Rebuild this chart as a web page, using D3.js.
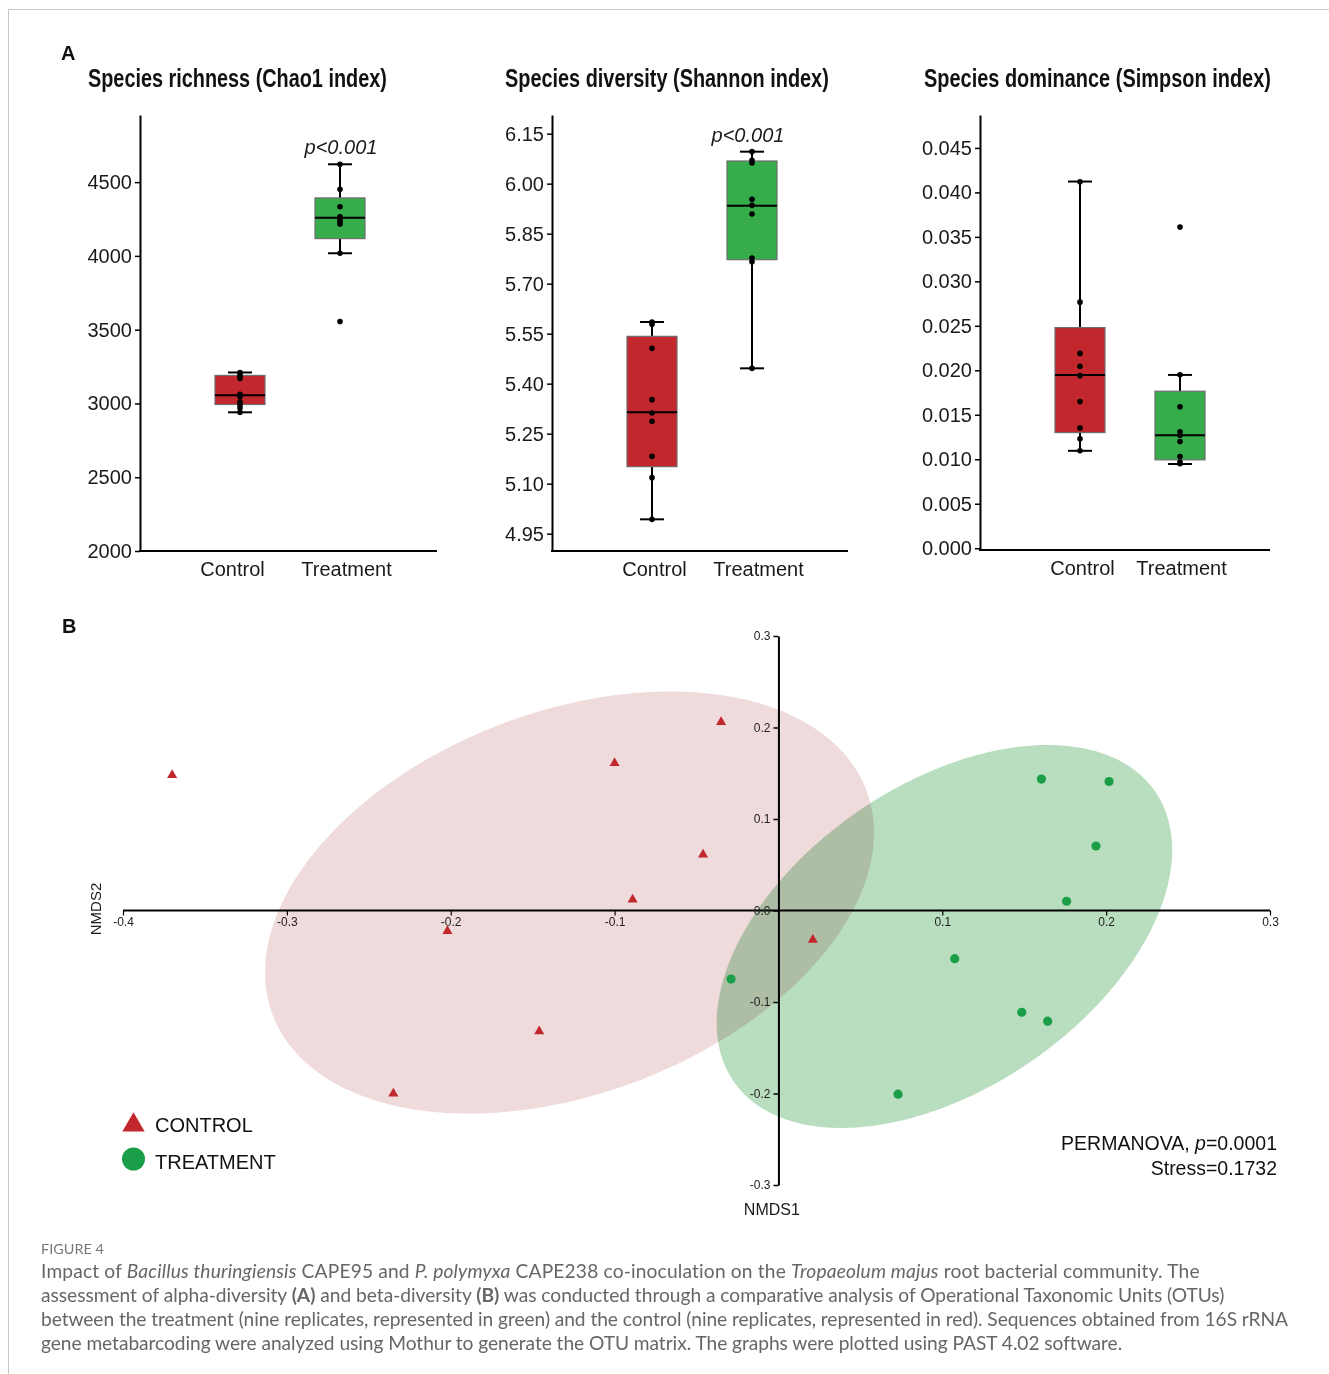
<!DOCTYPE html>
<html><head><meta charset="utf-8">
<script src="https://cdn.jsdelivr.net/npm/d3@7"></script>
<style>
body{margin:0;background:#fff;}
svg{display:block;}
</style></head><body>
<svg id="chart" width="1329" height="1374"></svg>
<script>
// ================= DATA =================
const groups = ["Control", "Treatment"];

// Box statistics per group: [whiskerLow, Q1, median, Q3, whiskerHigh]
const chao1Box   = [[2940, 2993, 3055, 3190, 3210], [4018, 4117, 4258, 4393, 4621]];
const chao1Pts   = [[3210, 3190, 3170, 3062, 3045, 3010, 2990, 2970, 2940],
                    [4621, 4452, 4333, 4265, 4250, 4235, 4217, 4018, 3555]];
const chao1Ticks = [2000, 2500, 3000, 3500, 4000, 4500];

const shannonBox   = [[4.993, 5.151, 5.314, 5.542, 5.585], [5.446, 5.772, 5.934, 6.068, 6.096]];
const shannonPts   = [[5.585, 5.578, 5.506, 5.352, 5.312, 5.287, 5.182, 5.118, 4.993],
                      [6.096, 6.070, 6.062, 5.953, 5.935, 5.909, 5.777, 5.766, 5.446]];
const shannonTicks = [4.95, 5.10, 5.25, 5.40, 5.55, 5.70, 5.85, 6.00, 6.15];

const simpsonBox   = [[0.01095, 0.0130, 0.01948, 0.0248, 0.04122], [0.00947, 0.00994, 0.0127, 0.01765, 0.01948]];
const simpsonPts   = [[0.0412, 0.02766, 0.0219, 0.02046, 0.0194, 0.01648, 0.01352, 0.01231, 0.01095],
                      [0.0361, 0.0195, 0.0159, 0.0131, 0.0127, 0.0120, 0.0103, 0.0097, 0.0095]];
const simpsonTicks = [0, 0.005, 0.010, 0.015, 0.020, 0.025, 0.030, 0.035, 0.040, 0.045];

// Panel B: NMDS coordinates
const controlNMDS1   = [-0.370, -0.035, -0.100, -0.046, -0.089, -0.202, -0.146, -0.235, 0.021];
const controlNMDS2   = [0.148, 0.206, 0.161, 0.061, 0.012, -0.0225, -0.132, -0.200, -0.032];
const treatmentNMDS1 = [0.1605, 0.2018, 0.1938, 0.1759, -0.0289, 0.1076, 0.073, 0.1485, 0.1643];
const treatmentNMDS2 = [0.1436, 0.141, 0.0705, 0.0101, -0.0749, -0.0527, -0.2007, -0.1112, -0.121];
// 95% ellipses: [centerX, centerY, varX, varY, covXY] (data units)
const controlEllipse   = [-0.1275, 0.0087, 0.03452, 0.0532, 0.01418];
const treatmentEllipse = [0.1013, -0.0284, 0.01932, 0.04379, 0.01316];
const nmdsXTicks = [-0.4, -0.3, -0.2, -0.1, 0.1, 0.2, 0.3];
const nmdsYTicks = [-0.3, -0.2, -0.1, 0.0, 0.1, 0.2, 0.3];

const titles = ["Species richness (Chao1 index)", "Species diversity (Shannon index)", "Species dominance (Simpson index)"];
const statsLines = ["PERMANOVA, ", "p", "=0.0001", "Stress=0.1732"];

// ================= DRAWING =================
const RED = "#c1272d", GREEN = "#36ad4a", PT_GREEN = "#1b9e48";
const FONT = "'Liberation Sans', Arial, Helvetica, sans-serif";
const svg = d3.select("#chart").style("font-family", FONT);

// frame lines
svg.append("line").attr("x1", 8).attr("x2", 1329).attr("y1", 9.5).attr("y2", 9.5).attr("stroke", "#c8c8c8").attr("stroke-width", 1);
svg.append("line").attr("x1", 8.5).attr("x2", 8.5).attr("y1", 9).attr("y2", 1374).attr("stroke", "#c8c8c8").attr("stroke-width", 1);

svg.append("text").attr("x", 61).attr("y", 60).text("A").attr("font-weight", "bold").attr("font-size", 20).attr("fill", "#111");
svg.append("text").attr("x", 62).attr("y", 633).text("B").attr("font-weight", "bold").attr("font-size", 20).attr("fill", "#111");

const panels = [
  {title: titles[0], tx: 88, tw: 299, axisX: 140, right: 437, top: 115, bottom: 551, domain: [2000, 4955], ticks: chao1Ticks, fmt: d => String(d), box: chao1Box, pts: chao1Pts, p: {x: 341, y: 154}, lab: [-8, 6]},
  {title: titles[1], tx: 505, tw: 324, axisX: 552, right: 848, top: 115, bottom: 551, domain: [4.898, 6.206], ticks: shannonTicks, fmt: d => d.toFixed(2), box: shannonBox, pts: shannonPts, p: {x: 748, y: 142}, lab: [2, 6]},
  {title: titles[2], tx: 924, tw: 347, axisX: 980, right: 1270, top: 115, bottom: 550, domain: [-0.0002, 0.0487], ticks: simpsonTicks, fmt: d => d.toFixed(3), box: simpsonBox, pts: simpsonPts, p: null, lab: [2, 1]}
];

panels.forEach(cfg => {
  const g = svg.append("g");
  const tt = g.append("text").attr("x", 0).attr("y", 0).text(cfg.title)
    .attr("font-weight", "bold").attr("font-size", 25).attr("fill", "#111");
  const natural = tt.node().getComputedTextLength();
  tt.attr("transform", `translate(${cfg.tx},87) scale(${cfg.tw / natural},1)`);

  const y = d3.scaleLinear().domain(cfg.domain).range([cfg.bottom, cfg.top]);
  const x = d3.scalePoint().domain(groups).range([cfg.axisX + 100, cfg.axisX + 200]);

  const ya = g.append("g").attr("transform", `translate(${cfg.axisX},0)`)
    .call(d3.axisLeft(y).tickValues(cfg.ticks).tickFormat(cfg.fmt).tickSize(5).tickSizeOuter(0).tickPadding(3));
  ya.select(".domain").attr("stroke", "#000").attr("stroke-width", 2);
  ya.selectAll(".tick line").attr("stroke", "#000").attr("stroke-width", 1.5);
  ya.selectAll(".tick text").attr("font-size", 20).attr("fill", "#1a1a1a").attr("font-family", FONT);

  g.append("line").attr("x1", cfg.axisX - 1).attr("x2", cfg.right).attr("y1", cfg.bottom).attr("y2", cfg.bottom)
    .attr("stroke", "#000").attr("stroke-width", 2);

  const xa = g.append("g").attr("transform", `translate(0,${cfg.bottom})`)
    .call(d3.axisBottom(x).tickSize(0).tickPadding(11));
  xa.select(".domain").remove();
  xa.selectAll(".tick text").attr("font-size", 20).attr("fill", "#1a1a1a").attr("font-family", FONT)
    .attr("dx", (d, i) => cfg.lab[i]);

  groups.forEach((grp, i) => {
    const [lo, q1, med, q3, hi] = cfg.box[i];
    const cx = x(grp), hw = 25, cap = 12;
    const col = i === 0 ? RED : GREEN;
    g.append("line").attr("x1", cx).attr("x2", cx).attr("y1", y(hi)).attr("y2", y(q3)).attr("stroke", "#000").attr("stroke-width", 2);
    g.append("line").attr("x1", cx).attr("x2", cx).attr("y1", y(q1)).attr("y2", y(lo)).attr("stroke", "#000").attr("stroke-width", 2);
    g.append("line").attr("x1", cx - cap).attr("x2", cx + cap).attr("y1", y(hi)).attr("y2", y(hi)).attr("stroke", "#000").attr("stroke-width", 2);
    g.append("line").attr("x1", cx - cap).attr("x2", cx + cap).attr("y1", y(lo)).attr("y2", y(lo)).attr("stroke", "#000").attr("stroke-width", 2);
    g.append("rect").attr("x", cx - hw).attr("width", 2 * hw).attr("y", y(q3)).attr("height", y(q1) - y(q3))
      .attr("fill", col).attr("stroke", "#6e6e6e").attr("stroke-width", 1.2);
    g.append("line").attr("x1", cx - hw).attr("x2", cx + hw).attr("y1", y(med)).attr("y2", y(med)).attr("stroke", "#000").attr("stroke-width", 2);
    g.selectAll(null).data(cfg.pts[i]).join("circle")
      .attr("cx", cx).attr("cy", d => y(d)).attr("r", 2.8).attr("fill", "#000");
  });

  if (cfg.p) {
    g.append("text").attr("x", cfg.p.x).attr("y", cfg.p.y).attr("text-anchor", "middle")
      .attr("font-style", "italic").attr("font-size", 20).attr("fill", "#1a1a1a").text("p<0.001");
  }
});

// ---------- Panel B ----------
const xB = d3.scaleLinear().domain([-0.4, 0.3]).range([123, 1270]);
const yB = d3.scaleLinear().domain([-0.3, 0.3]).range([1185, 636]);

function ellipsePath(e) {
  const [cx, cy, a, b, c] = e;
  const l11 = Math.sqrt(a), l21 = c / l11, l22 = Math.sqrt(b - l21 * l21);
  const pts = d3.range(0, 361).map(k => {
    const t = k * Math.PI / 180;
    return [xB(cx + l11 * Math.cos(t)), yB(cy + l21 * Math.cos(t) + l22 * Math.sin(t))];
  });
  return d3.line()(pts) + "Z";
}
const gB = svg.append("g");
gB.append("path").attr("d", ellipsePath(controlEllipse)).attr("fill", "#f0dbdc");
gB.append("path").attr("d", ellipsePath(treatmentEllipse)).attr("fill", "#b9ddbf").style("mix-blend-mode", "multiply");

const xAx = gB.append("g").attr("transform", `translate(0,${yB(0)})`)
  .call(d3.axisBottom(xB).tickValues(nmdsXTicks).tickFormat(d => d.toFixed(1)).tickSize(5).tickSizeOuter(0).tickPadding(2));
xAx.select(".domain").remove();
gB.append("line").attr("x1", xB(-0.4)).attr("x2", xB(0.3)).attr("y1", yB(0)).attr("y2", yB(0)).attr("stroke", "#000").attr("stroke-width", 2);
xAx.selectAll(".tick line").attr("stroke", "#000").attr("stroke-width", 1.2);
xAx.selectAll(".tick text").attr("font-size", 12).attr("fill", "#222").attr("font-family", FONT);

const yAx = gB.append("g").attr("transform", `translate(${xB(0)},0)`)
  .call(d3.axisLeft(yB).tickValues(nmdsYTicks).tickFormat(d => d.toFixed(1)).tickSize(5).tickSizeOuter(0).tickPadding(3));
yAx.select(".domain").attr("stroke", "#000").attr("stroke-width", 2);
yAx.selectAll(".tick line").attr("stroke", "#000").attr("stroke-width", 1.5);
yAx.selectAll(".tick text").attr("font-size", 12).attr("fill", "#222").attr("font-family", FONT);

gB.append("text").attr("x", xB(-0.004)).attr("y", 1215).attr("text-anchor", "middle").attr("font-size", 16).attr("fill", "#1a1a1a").text("NMDS1");
gB.append("text").attr("transform", "translate(101,909) rotate(-90)").attr("text-anchor", "middle").attr("font-size", 15).attr("fill", "#1a1a1a").text("NMDS2");

const ctrlData = controlNMDS1.map((v, i) => [v, controlNMDS2[i]]);
const trtData = treatmentNMDS1.map((v, i) => [v, treatmentNMDS2[i]]);
gB.selectAll(null).data(ctrlData).join("path")
  .attr("d", d3.symbol(d3.symbolTriangle, 44))
  .attr("transform", d => `translate(${xB(d[0])},${yB(d[1])})`).attr("fill", RED);
gB.selectAll(null).data(trtData).join("circle")
  .attr("cx", d => xB(d[0])).attr("cy", d => yB(d[1])).attr("r", 4.6).attr("fill", PT_GREEN);

// legend
gB.append("path").attr("d", d3.symbol(d3.symbolTriangle, 215)).attr("transform", "translate(133.5,1125)").attr("fill", RED);
gB.append("text").attr("x", 155).attr("y", 1132).attr("font-size", 20).attr("fill", "#111").text(groups[0].toUpperCase());
gB.append("circle").attr("cx", 133.5).attr("cy", 1159).attr("r", 11.5).attr("fill", PT_GREEN);
gB.append("text").attr("x", 155).attr("y", 1169).attr("font-size", 20).attr("fill", "#111").text(groups[1].toUpperCase());

const st = gB.append("text").attr("x", 1277).attr("y", 1150).attr("text-anchor", "end").attr("font-size", 19.5).attr("fill", "#111");
st.append("tspan").text(statsLines[0]);
st.append("tspan").attr("font-style", "italic").text(statsLines[1]);
st.append("tspan").text(statsLines[2]);
gB.append("text").attr("x", 1277).attr("y", 1175).attr("text-anchor", "end").attr("font-size", 19.5).attr("fill", "#111").text(statsLines[3]);

// ---------- Caption ----------
const CAP_FONT = "Lato, 'Open Sans', sans-serif";
svg.append("text").attr("x", 41).attr("y", 1254).attr("font-family", CAP_FONT).attr("font-size", 13)
  .attr("fill", "#777").attr("textLength", 63).attr("lengthAdjust", "spacingAndGlyphs").text("FIGURE 4");

const captionLines = [
  [["Impact of ", ""], ["Bacillus thuringiensis", "i"], [" CAPE95 and ", ""], ["P. polymyxa", "i"], [" CAPE238 co-inoculation on the ", ""], ["Tropaeolum majus", "i"], [" root bacterial community. The", ""]],
  [["assessment of alpha-diversity ", ""], ["(A)", "b"], [" and beta-diversity ", ""], ["(B)", "b"], [" was conducted through a comparative analysis of Operational Taxonomic Units (OTUs)", ""]],
  [["between the treatment (nine replicates, represented in green) and the control (nine replicates, represented in red). Sequences obtained from 16S rRNA", ""]],
  [["gene metabarcoding were analyzed using Mothur to generate the OTU matrix. The graphs were plotted using PAST 4.02 software.", ""]]
];
const capTargets = [1159, 1184, 1247, 1080];
const capTexts = captionLines.map((line, i) => {
  const t = svg.append("text").attr("x", 41).attr("y", 1278 + i * 24).attr("font-family", CAP_FONT)
    .attr("font-size", 17).attr("fill", "#666");
  line.forEach(([s, f]) => {
    const sp = t.append("tspan").text(s);
    if (f === "i") sp.attr("font-style", "italic");
    if (f === "b") sp.attr("font-weight", "bold");
  });
  return t;
});
const measured = d3.sum(capTexts, t => t.node().getComputedTextLength());
const k = d3.sum(capTargets) / measured;
capTexts.forEach((t, i) => {
  t.attr("font-size", 17 * k);
  const w = t.node().getComputedTextLength();
  const n = captionLines[i].reduce((s, p) => s + p[0].length, 0);
  t.attr("letter-spacing", (capTargets[i] - w) / n);
});
</script>
</body></html>
